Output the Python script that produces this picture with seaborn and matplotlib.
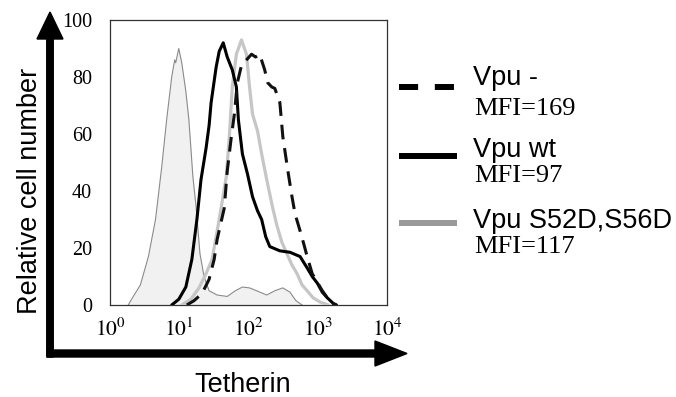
import numpy as np
import pandas as pd
import matplotlib
matplotlib.use("Agg")
import matplotlib.pyplot as plt
import seaborn as sns
from matplotlib.patches import FancyArrow
from matplotlib.lines import Line2D
from matplotlib import transforms
from matplotlib.ticker import FixedLocator, MultipleLocator, FuncFormatter

# ---------------- data (log10 of Tetherin intensity, relative cell number) -------------
iso_log = [0.263, 0.336, 0.438, 0.555, 0.657, 0.745, 0.818, 0.891, 0.934, 0.949, 0.993,
           1.036, 1.095, 1.139, 1.197, 1.241, 1.299, 1.358, 1.431, 1.547, 1.693, 1.810,
           1.912, 2.015, 2.117, 2.263, 2.380, 2.496, 2.599, 2.686, 2.774]
iso_y = [0, 3, 7, 17, 30, 48, 65, 80, 86, 85, 90,
         85, 75, 65, 45, 35, 18, 10, 5, 3.5, 3, 5,
         6.3, 6, 5, 3.5, 5, 6, 4.5, 1.5, 0]

wt_log = [0.891, 0.993, 1.095, 1.182, 1.255, 1.314, 1.387, 1.431, 1.460, 1.533, 1.577,
          1.635, 1.693, 1.766, 1.825, 1.854, 1.912, 1.985, 2.058, 2.131, 2.190, 2.248,
          2.307, 2.453, 2.599, 2.745, 2.847, 2.920, 2.993, 3.066, 3.139, 3.226, 3.270]
wt_y = [0, 2, 6.3, 16, 30, 44, 55, 63, 71, 83.5, 89,
        92, 87, 82.5, 76.5, 65, 53, 46, 38, 33, 30, 24,
        20.5, 19, 18.5, 17, 13, 10, 7.7, 4.5, 2.5, 0.5, 0]

mut_log = [1.036, 1.168, 1.285, 1.387, 1.474, 1.577, 1.679, 1.723, 1.766, 1.825, 1.898,
           1.971, 2.015, 2.058, 2.131, 2.190, 2.263, 2.350, 2.409, 2.482, 2.555, 2.628,
           2.701, 2.774, 2.847, 2.934, 3.036, 3.153]
mut_y = [0, 2, 6, 11, 16, 30, 45, 59, 76.5, 88, 93,
         88, 76.5, 67, 61, 53, 44, 34, 28, 22, 18, 14,
         11, 7, 5, 2.5, 1, 0]

neg_log = [1.109, 1.212, 1.328, 1.431, 1.504, 1.547, 1.650, 1.693, 1.752, 1.796, 1.839,
           1.898, 1.971, 2.044, 2.102, 2.161, 2.234, 2.277, 2.336, 2.380, 2.453, 2.496,
           2.569, 2.628, 2.672, 2.745, 2.803, 2.847, 2.920, 2.993, 3.066, 3.139, 3.226, 3.270]
neg_y = [0, 1.5, 4, 9, 16, 23, 34, 47, 59, 67, 78,
         84, 86, 88, 87, 88, 82.5, 78, 76.5, 76, 71, 59,
         47, 38, 32, 26, 21, 17, 11, 8, 5, 2.5, 0.5, 0]

legend_names = ["Vpu -", "Vpu wt", "Vpu S52D,S56D"]
legend_mfi = ["MFI=169", "MFI=97", "MFI=117"]
x_decades = [0, 1, 2, 3, 4]
y_ticks = [0, 20, 40, 60, 80, 100]

# ---------------- figure ----------------
W, H = 676, 397
sns.set_style("white")
plt.rcParams["font.family"] = ["Liberation Sans", "DejaVu Sans"]
plt.rcParams["mathtext.fontset"] = "stix"
plt.rcParams["text.color"] = "black"
plt.rcParams["xtick.color"] = "black"
plt.rcParams["ytick.color"] = "black"

fig = plt.figure(figsize=(W / 100, H / 100), dpi=100)
ax = fig.add_axes([110 / W, 1 - 305 / H, (387 - 110) / W, (305 - 20) / H])

def frame(lg, y):
    return pd.DataFrame({"x": 10 ** np.array(lg), "y": y})

iso = frame(iso_log, iso_y)
ax.fill_between(iso["x"], iso["y"], color="#f1f1f1", lw=0, zorder=1)
sns.lineplot(data=iso, x="x", y="y", ax=ax, sort=False, estimator=None,
             color="#8a8a8a", lw=0.8, zorder=2)
sns.lineplot(data=frame(mut_log, mut_y), x="x", y="y", ax=ax, sort=False, estimator=None,
             color="#c6c6c6", lw=2.3, zorder=3)
sns.lineplot(data=frame(wt_log, wt_y), x="x", y="y", ax=ax, sort=False, estimator=None,
             color="black", lw=2.2, zorder=4)
sns.lineplot(data=frame(neg_log, neg_y), x="x", y="y", ax=ax, sort=False, estimator=None,
             color="#111111", lw=2.2, linestyle=(0, (4.8, 2.9)), zorder=5)

ax.set_xscale("log")
ax.set_xlim(10 ** x_decades[0], 10 ** x_decades[-1])
ax.set_ylim(0, 100)
ax.xaxis.set_major_locator(FixedLocator([10 ** d for d in x_decades]))
ax.xaxis.set_minor_locator(FixedLocator([m * 10 ** d for d in x_decades[:-1] for m in range(2, 10)]))
ax.xaxis.set_major_formatter(FuncFormatter(lambda v, p: r"$10^{%d}$" % round(np.log10(v))))
ax.yaxis.set_major_locator(FixedLocator(y_ticks))
ax.yaxis.set_minor_locator(MultipleLocator(5))
ax.set_xlabel("")
ax.set_ylabel("")
ax.tick_params(axis="both", which="both", direction="out", color="#999999", width=0.8,
               labelcolor="black")
ax.tick_params(axis="both", which="major", length=4)
ax.tick_params(axis="both", which="minor", length=2.5)
ax.tick_params(axis="y", which="major", pad=9, labelsize=14.5)
ax.tick_params(axis="x", which="major", pad=6, labelsize=15.5)
for lab in ax.get_yticklabels():
    lab.set_fontfamily("Liberation Serif")
for s in ax.spines.values():
    s.set_color("#333333")
    s.set_linewidth(0.9)

# pixel transform (top-left origin)
T = transforms.Affine2D().scale(1 / W, -1 / H).translate(0, 1) + fig.transFigure

# big axis arrows
fig.add_artist(FancyArrow(50, 357, 0, 12 - 357, width=6.5, head_width=26, head_length=27,
                          length_includes_head=True, color="black", transform=T))
fig.add_artist(FancyArrow(47, 353.5, 407 - 47, 0, width=7, head_width=25, head_length=32,
                          length_includes_head=True, color="black", transform=T))

fig.text(30, 191, "Relative cell number", rotation=90, ha="center", va="center",
         fontsize=19.5, color="black", transform=T)
fig.text(243, 392, "Tetherin", ha="center", va="baseline", fontsize=19.5, color="black",
         transform=T)

# legend
leg_y = [87, 156, 223]
leg_style = [dict(color="black", linestyle=(0, (3.2, 2.8))),
             dict(color="black"),
             dict(color="#999999")]
name_base = [85, 157, 228]
mfi_base = [115, 182, 253]
for i in range(3):
    st = dict(lw=4.3, solid_capstyle="butt", dash_capstyle="butt")
    st.update(leg_style[i])
    fig.add_artist(Line2D([399, 457], [leg_y[i], leg_y[i]], transform=T, **st))
    fig.text(473, name_base[i], legend_names[i], fontsize=19.5, va="baseline", ha="left",
             color="black", transform=T)
    fig.text(474, mfi_base[i], legend_mfi[i], fontsize=19, va="baseline", ha="left",
             family="Liberation Serif", color="black", transform=T)

fig.savefig("out.png", dpi=100)
